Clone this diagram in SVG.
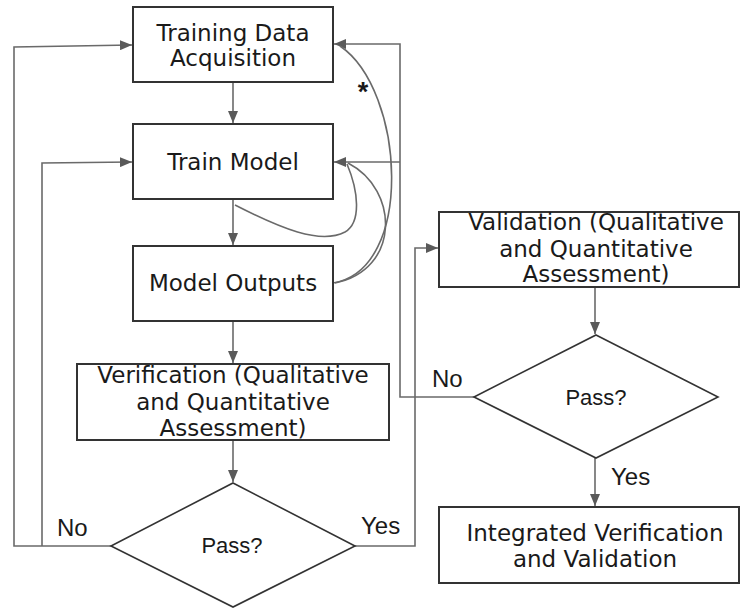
<svg xmlns="http://www.w3.org/2000/svg" width="741" height="609" viewBox="0 0 741 609">
  <style>
    .box { fill: #ffffff; stroke: #333333; stroke-width: 2; }
    .dia { fill: #ffffff; stroke: #333333; stroke-width: 1.6; }
    .lbl { font-family: "DejaVu Sans", Verdana, sans-serif; font-size: 23px; fill: #1a1a1a; text-anchor: middle; }
    .dlbl { font-family: "Liberation Sans", Arial, sans-serif; font-size: 22px; fill: #1a1a1a; }
    .ans { font-family: "Liberation Sans", Arial, sans-serif; font-size: 24px; fill: #1a1a1a; }
    .edge { fill: none; stroke: #6a6a6a; stroke-width: 1.6; }
    .arr { marker-end: url(#head); }
  </style>
  <defs>
    <marker id="head" viewBox="0 0 12 10" refX="12" refY="5" markerWidth="12" markerHeight="10" markerUnits="userSpaceOnUse" orient="auto">
      <path d="M0,0 L12,5 L0,10 Z" fill="#5a5a5a"/>
    </marker>
  </defs>

  <!-- connectors -->
  <g id="connectors">
    <path class="edge arr" d="M233,82 V123"/>
    <path class="edge arr" d="M233,199 V245"/>
    <path class="edge arr" d="M233,321 V363"/>
    <path class="edge arr" d="M233,440 V482"/>
    <!-- first decision: No loops back -->
    <path class="edge arr" d="M111,546 H14 V47 L132,45"/>
    <path class="edge arr" d="M42,546 V163 L132,162"/>
    <!-- first decision: Yes to validation -->
    <path class="edge arr" d="M355,546 H415 V248 H438"/>
    <path class="edge arr" d="M595,287 V334"/>
    <path class="edge arr" d="M595,458 V506"/>
    <!-- second decision: No loops back -->
    <path class="edge arr" d="M474,397 H400 V44 H334"/>
    <path class="edge arr" d="M400,162 H334"/>
    <!-- feedback curves -->
    <path class="edge" d="M333,283 C415,270 405,90 340,46"/>
    <path class="edge" d="M335,283 C400,270 400,190 348,163"/>
    <path class="edge" d="M235,205 C280,228 320,245 345,232 C362,222 358,190 347,164"/>
    <text x="363" y="101" font-family="Liberation Sans, Arial, sans-serif" font-size="27" font-weight="bold" fill="#1a1a1a" text-anchor="middle">*</text>
  </g>

  <g id="training-data">
    <rect class="box" x="133" y="7" width="200" height="75"/>
    <text class="lbl" x="233" y="41">Training Data</text>
    <text class="lbl" x="233" y="66">Acquisition</text>
  </g>

  <g id="train-model">
    <rect class="box" x="133" y="124" width="200" height="75"/>
    <text class="lbl" x="233" y="170">Train Model</text>
  </g>

  <g id="model-outputs">
    <rect class="box" x="133" y="246" width="200" height="75"/>
    <text class="lbl" x="233" y="291">Model Outputs</text>
  </g>

  <g id="verification">
    <rect class="box" x="77" y="364" width="312" height="76"/>
    <text class="lbl" x="233" y="383">Verification (Qualitative</text>
    <text class="lbl" x="233" y="410">and Quantitative</text>
    <text class="lbl" x="233" y="436">Assessment)</text>
  </g>

  <g id="pass-1">
    <polygon class="dia" points="233,483 355,546 233,607 111,546"/>
    <text class="dlbl" x="232" y="553" text-anchor="middle">Pass?</text>
    <text class="ans" x="57" y="536">No</text>
    <text class="ans" x="361" y="534">Yes</text>
  </g>

  <g id="validation">
    <rect class="box" x="439" y="212" width="300" height="75"/>
    <text class="lbl" x="596" y="230">Validation (Qualitative</text>
    <text class="lbl" x="596" y="257">and Quantitative</text>
    <text class="lbl" x="596" y="282">Assessment)</text>
  </g>

  <g id="pass-2">
    <polygon class="dia" points="596,335 718,397 596,458 474,397"/>
    <text class="dlbl" x="596" y="405" text-anchor="middle">Pass?</text>
    <text class="ans" x="432" y="387">No</text>
    <text class="ans" x="611" y="485">Yes</text>
  </g>

  <g id="integrated">
    <rect class="box" x="439" y="507" width="300" height="76"/>
    <text class="lbl" x="595" y="541">Integrated Verification</text>
    <text class="lbl" x="595" y="567">and Validation</text>
  </g>
</svg>
